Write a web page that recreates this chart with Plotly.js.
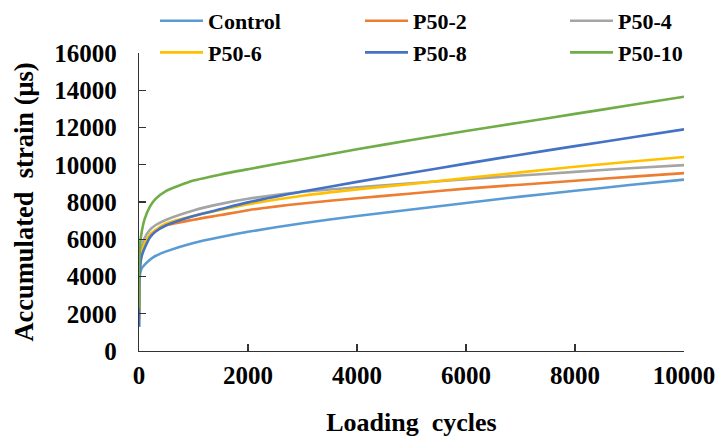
<!DOCTYPE html>
<html>
<head>
<meta charset="utf-8">
<script src="https://cdn.plot.ly/plotly-3.0.1.min.js"></script>
<style>html,body{margin:0;padding:0;background:#fff;}#chart{width:719px;height:439px;}</style>
</head>
<body>
<div id="chart"></div>
<script>
// Loading cycles (x values)
const cycles = [1, 5, 20, 50, 100, 200, 300, 500, 1000, 1500, 2000, 3000, 4000, 5000, 6000, 7000, 8000, 9000, 10000];

// Accumulated strain (µs)
const control = [1300, 3300, 4150, 4450, 4620, 4900, 5100, 5350, 5800, 6120, 6400, 6860, 7250, 7600, 7950, 8290, 8600, 8910, 9200];
const p50_2   = [1700, 3800, 4700, 5250, 5700, 6200, 6450, 6750, 7050, 7300, 7560, 7920, 8200, 8460, 8720, 8930, 9140, 9350, 9550];
const p50_4   = [2000, 4300, 5100, 5550, 6050, 6500, 6750, 7050, 7550, 7900, 8170, 8550, 8790, 9010, 9220, 9420, 9620, 9810, 9980];
const p50_6   = [1800, 3900, 4800, 5300, 5750, 6250, 6500, 6850, 7250, 7580, 7880, 8340, 8680, 8970, 9280, 9590, 9890, 10160, 10420];
const p50_8   = [1300, 3500, 4500, 5100, 5500, 6100, 6400, 6750, 7250, 7620, 7980, 8560, 9080, 9570, 10060, 10540, 11000, 11450, 11900];
const p50_10  = [2300, 4700, 5700, 6400, 7050, 7750, 8150, 8600, 9150, 9480, 9760, 10300, 10830, 11330, 11810, 12270, 12730, 13190, 13650];

const seriesNames = ["Control", "P50-2", "P50-4", "P50-6", "P50-8", "P50-10"];
const seriesValues = [control, p50_2, p50_4, p50_6, p50_8, p50_10];
const seriesColors = ["#5B9BD5", "#ED7D31", "#A5A5A5", "#FFC000", "#4472C4", "#70AD47"];
// legend column of each series (three columns, two rows)
const seriesLegend = ["legend", "legend2", "legend3", "legend", "legend2", "legend3"];

const xTicks = [0, 2000, 4000, 6000, 8000, 10000];
const yTicks = [0, 2000, 4000, 6000, 8000, 10000, 12000, 14000, 16000];

const FONT = "Liberation Serif, Times New Roman, serif";
const W = 719, H = 439;
const PLOT_L = 139, PLOT_R = 684, PLOT_T = 53, PLOT_B = 351;

const traces = seriesNames.map((name, i) => ({
  type: "scatter",
  mode: "lines",
  name: name,
  legend: seriesLegend[i],
  x: cycles,
  y: seriesValues[i],
  line: { color: seriesColors[i], width: 2.6, shape: "spline", smoothing: 0.6 }
}));

function legendAt(px) {
  return {
    orientation: "v",
    x: px / W, xanchor: "left",
    y: 1.0, yanchor: "top",
    itemwidth: 43,
    tracegroupgap: 0,
    font: { family: FONT, size: 22, color: "#000000", weight: "bold" },
    bgcolor: "rgba(0,0,0,0)",
    traceorder: "normal"
  };
}

const layout = {
  width: W,
  height: H,
  margin: { l: 0, r: 0, t: 0, b: H - PLOT_B, pad: 0 },
  paper_bgcolor: "#ffffff",
  plot_bgcolor: "#ffffff",
  font: { family: FONT, size: 24, color: "#000000", weight: "bold" },
  showlegend: true,
  legend: legendAt(155),
  legend2: legendAt(360),
  legend3: legendAt(565),
  xaxis: {
    domain: [PLOT_L / W, PLOT_R / W],
    range: [0, 10000],
    tickvals: xTicks,
    ticktext: xTicks.map(String),
    ticks: "inside",
    ticklen: 7,
    tickwidth: 1.3,
    tickcolor: "#333333",
    showline: true,
    linecolor: "#333333",
    linewidth: 1.3,
    showgrid: false,
    zeroline: false,
    ticklabelstandoff: 2,
    tickfont: { family: FONT, size: 25, color: "#000000", weight: "bold" },
    title: { text: "Loading  cycles", standoff: 24, font: { family: FONT, size: 26, color: "#000000", weight: "bold" } }
  },
  yaxis: {
    domain: [0, (PLOT_B - PLOT_T) / PLOT_B],
    range: [0, 16000],
    tickvals: yTicks,
    ticktext: yTicks.map(String),
    ticks: "inside",
    ticklen: 7,
    tickwidth: 1.3,
    tickcolor: "#333333",
    showline: true,
    linecolor: "#333333",
    linewidth: 1.3,
    showgrid: false,
    zeroline: false,
    ticklabelstandoff: 16,
    tickfont: { family: FONT, size: 25, color: "#000000", weight: "bold" },
    title: { text: "Accumulated  strain (μs)", standoff: 13, font: { family: FONT, size: 26.5, color: "#000000", weight: "bold" } }
  }
};

Plotly.newPlot("chart", traces, layout, { displayModeBar: false, staticPlot: true });
</script>
</body>
</html>
